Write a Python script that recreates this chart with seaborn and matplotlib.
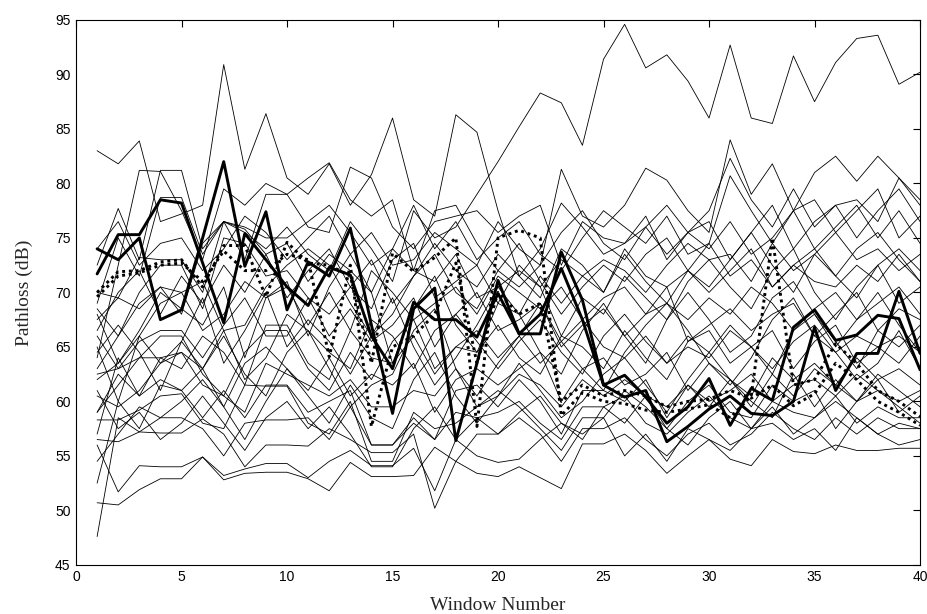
import numpy as np
import pandas as pd
import matplotlib
matplotlib.use("Agg")
import matplotlib.pyplot as plt
import seaborn as sns

windows = list(range(1, 41))

# thick solid series
solid_a = [71.7, 75.3, 75.3, 78.5, 78.2, 72.7, 67.2, 75.4, 73.0, 70.5,
           68.8, 72.3, 71.6, 66.0, 63.0, 69.1, 67.5, 67.5, 65.9, 69.9,
           66.2, 66.2, 73.7, 69.3, 61.5, 62.4, 60.4, 58.0, 59.5, 62.1,
           57.8, 61.2, 60.1, 66.8, 68.4, 65.6, 66.1, 67.9, 67.6, 62.9]
solid_b = [74.0, 73.0, 75.0, 67.5, 68.4, 75.0, 82.0, 72.4, 77.4, 68.4,
           72.8, 71.5, 75.9, 67.0, 58.9, 68.5, 70.4, 56.4, 63.5, 71.1,
           66.2, 68.0, 72.2, 67.5, 61.5, 60.4, 61.0, 56.3, 57.7, 59.3,
           60.5, 58.9, 58.7, 60.0, 66.8, 61.0, 64.4, 64.4, 70.1, 64.4]
# thick dotted series
dotted_a = [70.0, 71.9, 72.0, 72.8, 73.0, 70.5, 74.3, 74.3, 69.6, 74.6,
            72.7, 72.5, 71.5, 63.5, 73.6, 71.9, 73.2, 75.0, 57.7, 75.0,
            75.7, 75.0, 58.7, 60.8, 60.0, 59.8, 59.2, 59.0, 59.3, 59.7,
            58.5, 60.5, 75.0, 61.5, 62.0, 65.3, 63.5, 61.0, 60.0, 58.6]
dotted_b = [69.6, 71.5, 71.8, 72.5, 72.7, 71.0, 73.8, 72.0, 72.0, 73.5,
            73.0, 64.1, 72.5, 57.7, 65.0, 66.0, 68.0, 72.7, 63.5, 70.0,
            68.0, 69.0, 60.0, 61.5, 60.5, 61.0, 60.5, 59.5, 60.0, 60.2,
            61.0, 60.3, 61.5, 59.6, 60.7, 63.5, 62.0, 60.0, 59.0, 57.8]

# thin series
T01 = [83.0, 81.8, 83.9, 76.5, 77.2, 78.0, 90.9, 81.3, 86.4, 80.5,
       79.0, 81.8, 78.0, 80.8, 86.0, 78.5, 77.0, 86.3, 84.7, 77.5,
       71.5, 74.0, 78.2, 76.0, 73.5, 74.5, 77.0, 73.0, 75.5, 76.5,
       73.0, 75.5, 78.0, 74.0, 76.5, 78.0, 75.0, 77.5, 79.5, 76.5]
T02 = [68.5, 66.0, 69.0, 70.5, 68.0, 74.5, 76.5, 75.5, 74.0, 76.0,
       73.5, 72.0, 76.5, 74.0, 71.0, 77.5, 75.0, 76.0, 79.0, 82.0,
       85.2, 88.3, 87.4, 83.5, 91.4, 94.6, 90.6, 91.8, 89.4, 86.0,
       92.7, 86.0, 85.5, 91.7, 87.5, 91.1, 93.3, 93.6, 89.1, 90.2]
T03 = [72.5, 77.7, 73.0, 81.2, 81.2, 74.0, 76.5, 73.0, 79.0, 79.0,
       80.5, 81.9, 78.5, 77.0, 78.5, 72.0, 77.5, 78.0, 74.5, 72.0,
       70.5, 72.5, 81.3, 77.0, 76.0, 78.0, 81.4, 80.3, 77.5, 75.5,
       84.0, 79.0, 81.8, 77.5, 81.0, 82.5, 80.2, 82.5, 80.5, 78.0]
T04 = [64.0, 72.5, 81.2, 81.1, 77.5, 73.0, 79.5, 78.0, 80.0, 79.0,
       76.0, 75.5, 81.5, 80.5, 76.0, 74.0, 76.5, 77.0, 77.5, 75.5,
       77.0, 78.0, 72.5, 76.5, 75.0, 74.5, 76.0, 73.5, 75.5, 77.5,
       82.3, 78.5, 76.0, 79.5, 76.0, 78.0, 78.5, 76.5, 80.5, 78.5]
T05 = [69.0, 75.0, 71.5, 78.7, 78.7, 73.5, 76.5, 76.0, 75.0, 75.0,
       76.5, 78.0, 75.5, 72.5, 74.0, 78.0, 74.0, 76.5, 73.0, 75.0,
       76.5, 73.5, 72.0, 75.0, 77.5, 76.0, 74.5, 77.0, 73.5, 74.5,
       80.7, 77.5, 74.5, 77.5, 78.5, 75.5, 77.5, 79.5, 75.0, 77.0]
T06 = [67.5, 69.5, 73.2, 73.0, 73.0, 70.0, 76.5, 75.8, 73.5, 74.5,
       71.0, 73.5, 72.0, 70.0, 74.0, 72.0, 71.0, 73.5, 69.5, 70.5,
       72.0, 70.5, 73.0, 71.5, 73.0, 72.0, 70.0, 72.5, 74.5, 73.0,
       73.5, 71.0, 74.5, 72.0, 73.5, 75.5, 73.0, 74.0, 72.0, 73.5]
T07 = [63.0, 66.0, 70.0, 72.5, 72.5, 68.5, 75.0, 74.5, 71.5, 72.0,
       69.5, 68.0, 70.5, 68.5, 73.0, 74.5, 69.5, 71.0, 72.5, 69.0,
       68.0, 71.5, 69.0, 71.5, 70.0, 74.0, 71.5, 70.5, 72.0, 70.0,
       72.0, 74.0, 70.5, 72.5, 71.0, 70.5, 72.5, 71.0, 73.5, 71.0]
T08 = [62.0, 63.5, 66.0, 69.0, 70.0, 66.5, 68.0, 71.0, 69.5, 70.5,
       67.0, 70.0, 66.5, 72.0, 70.0, 67.5, 69.0, 70.5, 68.0, 71.5,
       70.0, 68.5, 70.5, 67.5, 69.5, 70.5, 68.0, 69.0, 67.5, 69.5,
       68.0, 70.5, 69.0, 66.5, 68.5, 70.0, 67.5, 69.0, 70.5, 68.0]
T09 = [66.0, 63.0, 65.5, 66.5, 66.5, 64.0, 67.0, 69.5, 66.0, 66.0,
       69.5, 66.0, 68.5, 65.5, 67.0, 69.5, 65.0, 68.0, 70.0, 66.5,
       67.5, 69.0, 65.0, 67.0, 68.5, 66.0, 68.0, 70.5, 65.5, 67.0,
       68.5, 66.5, 68.0, 69.0, 66.0, 68.0, 70.0, 66.5, 68.5, 67.5]
T10 = [59.0, 61.5, 64.0, 66.0, 66.0, 62.5, 60.5, 64.5, 66.5, 66.5,
       63.0, 61.0, 64.5, 62.0, 65.5, 67.5, 63.0, 65.0, 66.5, 64.0,
       66.0, 63.5, 65.5, 67.5, 65.0, 64.0, 66.0, 63.5, 65.0, 64.0,
       66.5, 65.0, 63.0, 65.5, 67.0, 64.5, 66.0, 65.0, 63.5, 66.0]
T11 = [70.0, 69.5, 68.5, 70.5, 70.0, 71.0, 66.5, 67.0, 70.5, 72.5,
       74.0, 72.5, 69.0, 66.0, 68.0, 71.5, 73.5, 70.0, 68.5, 72.0,
       74.5, 71.0, 68.0, 70.5, 72.5, 71.0, 73.5, 75.0, 72.0, 70.5,
       73.0, 75.5, 72.5, 70.0, 73.5, 71.5, 74.0, 75.5, 73.0, 71.0]
T12 = [57.0, 64.0, 60.5, 64.0, 64.5, 63.0, 66.0, 62.5, 60.5, 64.5,
       66.5, 63.0, 59.5, 61.5, 62.5, 66.5, 68.5, 63.0, 60.5, 63.5,
       66.0, 69.0, 65.5, 63.0, 61.0, 64.5, 67.0, 69.0, 66.5, 63.5,
       61.5, 64.0, 67.5, 69.5, 66.0, 64.5, 62.0, 63.5, 66.5, 63.0]
T13 = [68.0, 63.5, 66.5, 70.0, 68.5, 67.0, 70.5, 64.0, 69.5, 71.0,
       66.0, 70.5, 73.5, 70.0, 63.5, 68.5, 71.5, 67.0, 64.5, 69.0,
       72.5, 70.5, 66.0, 69.5, 68.0, 71.5, 69.5, 67.5, 71.0, 73.0,
       70.5, 68.5, 72.0, 74.0, 70.0, 67.5, 70.5, 72.5, 69.0, 70.5]
T14 = [64.5, 67.0, 64.5, 61.0, 65.5, 69.5, 63.5, 66.5, 70.0, 65.0,
       67.5, 65.5, 62.5, 66.0, 69.5, 65.0, 61.5, 64.0, 67.0, 70.5,
       68.0, 64.5, 62.5, 66.5, 69.0, 66.0, 63.5, 67.5, 70.0, 67.5,
       64.5, 66.0, 69.5, 71.0, 68.0, 65.0, 67.5, 70.0, 67.0, 64.5]
T15 = [74.0, 76.5, 72.5, 74.5, 75.0, 72.0, 74.0, 77.0, 75.5, 73.0,
       75.0, 77.0, 73.5, 75.5, 72.5, 73.0, 75.5, 74.0, 72.5, 76.5,
       74.0, 72.5, 75.5, 77.5, 74.5, 73.0, 76.0, 78.0, 75.5, 74.0,
       76.5, 73.5, 75.0, 77.5, 74.0, 76.0, 78.0, 75.0, 77.5, 74.5]
T16 = [54.5, 57.0, 59.5, 58.5, 60.0, 62.0, 59.5, 56.5, 60.0, 63.0,
       60.5, 58.0, 61.5, 58.5, 57.5, 62.0, 64.5, 60.5, 58.0, 60.5,
       63.5, 61.0, 58.5, 60.0, 62.5, 64.0, 61.5, 59.0, 62.0, 64.5,
       62.0, 59.5, 62.5, 60.5, 63.0, 61.5, 60.0, 62.5, 61.0, 59.5]
T17 = [61.0, 57.5, 59.0, 56.5, 58.0, 60.5, 58.0, 55.5, 58.5, 60.0,
       57.5, 59.5, 57.0, 54.0, 54.0, 57.5, 59.5, 56.5, 58.5, 57.0,
       59.0, 60.5, 58.0, 56.5, 59.5, 58.0, 60.5, 57.5, 56.0, 58.5,
       60.0, 57.5, 59.5, 57.0, 58.5, 60.0, 58.5, 57.0, 58.0, 57.5]
T18 = [66.5, 70.0, 72.0, 68.0, 71.5, 69.0, 72.5, 70.0, 73.5, 69.5,
       72.0, 74.0, 70.5, 73.0, 69.0, 71.5, 74.5, 72.0, 70.5, 73.5,
       71.5, 69.5, 74.0, 72.5, 70.0, 73.5, 71.0, 69.0, 72.0, 74.5,
       71.5, 73.0, 70.5, 72.5, 74.0, 71.5, 69.5, 72.5, 74.0, 72.0]
L1 = [50.7, 50.5, 51.9, 52.9, 52.9, 54.9, 52.8, 53.4, 53.5, 53.5,
      52.9, 51.8, 54.4, 53.1, 53.1, 53.2, 55.8, 54.5, 53.4, 53.1,
      54.0, 53.0, 52.0, 56.1, 56.1, 57.0, 55.5, 53.4, 55.0, 56.5,
      54.7, 54.1, 56.5, 55.4, 55.2, 56.0, 55.5, 55.5, 55.7, 55.7]
L2 = [56.0, 51.7, 54.1, 54.0, 54.0, 54.9, 53.2, 53.8, 54.3, 54.3,
      53.0, 54.5, 55.5, 54.1, 54.1, 55.7, 51.8, 56.5, 55.0, 54.4,
      54.7, 56.5, 58.0, 57.0, 58.5, 55.0, 57.0, 54.5, 57.5, 56.5,
      55.5, 57.5, 58.0, 56.5, 57.5, 55.5, 58.5, 57.0, 56.0, 56.5]
L3 = [47.6, 58.5, 57.2, 57.1, 57.1, 58.4, 57.0, 54.0, 56.0, 56.0,
      55.9, 57.5, 56.5, 55.3, 55.3, 57.0, 50.2, 54.5, 57.0, 57.0,
      58.5, 57.0, 54.5, 57.5, 57.5, 58.5, 56.5, 55.0, 57.0, 58.0,
      56.0, 57.0, 59.0, 57.5, 56.5, 58.5, 57.0, 58.5, 57.5, 57.5]
L4 = [56.5, 56.3, 57.2, 58.5, 58.5, 57.5, 55.0, 58.0, 58.3, 58.3,
      58.5, 56.5, 59.5, 56.0, 56.0, 58.5, 56.5, 59.0, 58.5, 59.0,
      60.0, 58.0, 56.5, 59.5, 59.5, 60.5, 58.0, 57.0, 59.0, 60.5,
      58.5, 57.5, 60.0, 59.0, 58.5, 60.5, 58.0, 59.5, 58.5, 58.5]
L5 = [58.3, 58.3, 59.2, 60.5, 60.7, 58.0, 57.5, 61.5, 61.4, 61.4,
      58.0, 57.0, 60.0, 54.5, 54.5, 59.0, 57.5, 58.0, 59.5, 61.0,
      59.5, 57.5, 55.5, 58.5, 58.5, 61.0, 59.5, 57.5, 60.0, 61.5,
      59.0, 58.5, 61.5, 60.0, 61.0, 57.5, 60.0, 61.0, 59.5, 58.0]
L6 = [52.5, 60.0, 57.5, 61.5, 61.0, 58.5, 61.0, 58.5, 61.5, 61.5,
      59.0, 60.0, 61.0, 56.0, 56.0, 58.0, 56.5, 61.0, 61.5, 59.5,
      62.0, 60.0, 57.0, 61.0, 61.0, 60.0, 62.0, 58.5, 61.5, 59.5,
      62.0, 60.0, 58.5, 62.5, 59.5, 62.0, 60.0, 62.0, 59.0, 60.5]
M1 = [59.0, 62.5, 60.5, 62.0, 61.0, 63.0, 59.5, 63.5, 65.0, 63.0,
      61.0, 64.0, 60.5, 62.5, 61.5, 63.5, 59.0, 62.0, 63.0, 61.5,
      63.0, 64.5, 60.0, 63.0, 64.0, 61.5, 62.5, 64.5, 61.0, 63.5,
      62.0, 60.5, 64.0, 62.0, 63.5, 61.5, 64.0, 62.0, 63.0, 61.5]
M2 = [62.5, 63.0, 64.0, 64.0, 63.0, 66.0, 64.5, 61.5, 67.0, 67.0,
      63.5, 62.0, 66.5, 64.0, 63.5, 66.0, 62.5, 65.0, 64.5, 67.0,
      64.0, 62.5, 66.0, 65.0, 63.0, 66.5, 64.0, 62.0, 65.5, 66.5,
      63.5, 65.0, 66.5, 63.0, 65.5, 67.0, 63.5, 65.0, 66.0, 64.5]
M3 = [65.0, 60.0, 66.0, 63.5, 65.5, 63.0, 66.5, 62.0, 64.0, 68.0,
      66.5, 64.5, 63.0, 67.5, 66.0, 63.0, 66.5, 68.0, 65.5, 63.0,
      65.5, 67.5, 64.5, 62.5, 66.0, 68.0, 65.5, 63.5, 66.0, 64.5,
      67.0, 65.0, 62.5, 66.5, 68.0, 65.5, 63.0, 66.5, 65.0, 67.0]
M4 = [60.5, 59.5, 61.0, 63.5, 64.5, 61.5, 60.5, 59.0, 63.5, 62.5,
      61.5, 60.5, 62.0, 59.5, 59.5, 61.0, 60.5, 63.0, 59.5, 60.5,
      62.5, 61.5, 59.5, 62.0, 60.5, 62.0, 60.5, 59.5, 61.5, 60.0,
      61.0, 62.5, 60.0, 61.5, 62.0, 60.5, 62.5, 61.0, 60.0, 61.0]

thin_series = {
    "T01": T01, "T02": T02, "T03": T03, "T04": T04, "T05": T05, "T06": T06,
    "T07": T07, "T08": T08, "T09": T09, "T10": T10, "T11": T11, "T12": T12,
    "T13": T13, "T14": T14, "T15": T15, "T16": T16, "T17": T17, "T18": T18,
    "L1": L1, "L2": L2, "L3": L3, "L4": L4, "L5": L5, "L6": L6,
    "M1": M1, "M2": M2, "M3": M3, "M4": M4,
}

x_ticks = [0, 5, 10, 15, 20, 25, 30, 35, 40]
y_ticks = [45, 50, 55, 60, 65, 70, 75, 80, 85, 90, 95]

thin_df = pd.DataFrame(
    [(w, v, name) for name, vals in thin_series.items() for w, v in zip(windows, vals)],
    columns=["window", "pathloss", "series"],
)

sns.set_style("white")
plt.rcParams["font.family"] = ["Liberation Sans", "DejaVu Sans"]

fig = plt.figure(figsize=(9.27, 6.14), dpi=100)
ax = fig.add_axes([0.082, 0.080, 0.9105, 0.8875])

sns.lineplot(data=thin_df, x="window", y="pathloss", units="series",
             estimator=None, color="black", linewidth=0.6, ax=ax, legend=False)

for vals in (dotted_a, dotted_b):
    sns.lineplot(x=windows, y=vals, color="black", linewidth=2.1,
                 linestyle=(0, (1, 1.3)), ax=ax, legend=False)
for vals in (solid_a, solid_b):
    sns.lineplot(x=windows, y=vals, color="black", linewidth=2.1, ax=ax, legend=False)

ax.set_xlim(0, 40)
ax.set_ylim(45, 95)
ax.set_xticks(x_ticks)
ax.set_yticks(y_ticks)
ax.tick_params(direction="in", length=5, width=0.8, top=True, right=True,
               labelsize=10, pad=4, colors="black")
for s in ax.spines.values():
    s.set_visible(True)
    s.set_color("black")
    s.set_linewidth(0.8)

ax.set_xlabel("Window Number", fontsize=14, family=["Liberation Serif"], labelpad=9)
ax.set_ylabel("Pathloss (dB)", fontsize=14, family=["Liberation Serif"], labelpad=16)

fig.savefig("out.png", dpi=100)
